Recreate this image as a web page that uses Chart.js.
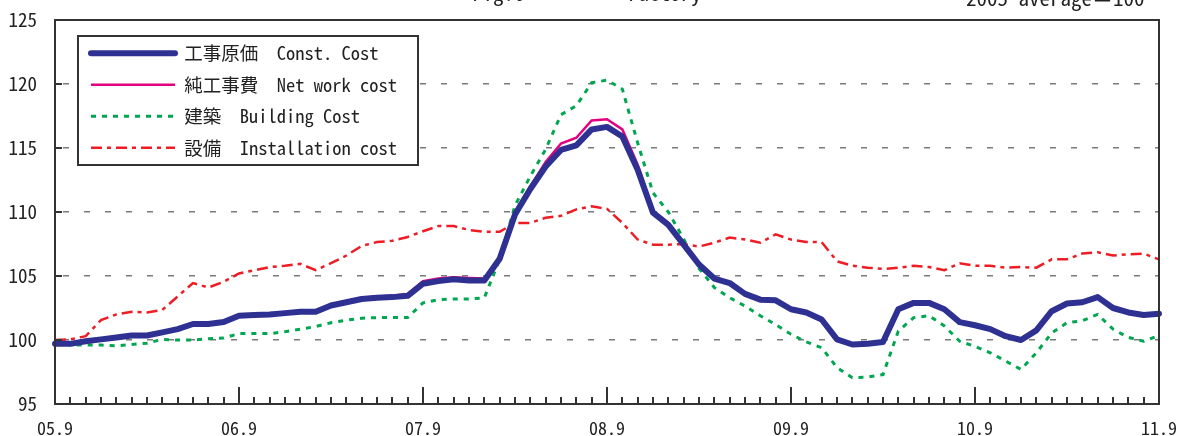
<!DOCTYPE html>
<html>
<head>
<meta charset="utf-8">
<script src="https://cdn.jsdelivr.net/npm/chart.js@4.4.1/dist/chart.umd.min.js"></script>
<style>
  html, body { margin: 0; padding: 0; background: #fff; }
  #wrap { width: 1179px; height: 436px; position: relative; }
</style>
</head>
<body>
<div id="wrap"><canvas id="c" width="1179" height="436"></canvas></div>
<script>
// ---- Data ----
const months = [
  '05.9','05.10','05.11','05.12',
  '06.1','06.2','06.3','06.4','06.5','06.6','06.7','06.8','06.9','06.10','06.11','06.12',
  '07.1','07.2','07.3','07.4','07.5','07.6','07.7','07.8','07.9','07.10','07.11','07.12',
  '08.1','08.2','08.3','08.4','08.5','08.6','08.7','08.8','08.9','08.10','08.11','08.12',
  '09.1','09.2','09.3','09.4','09.5','09.6','09.7','09.8','09.9','09.10','09.11','09.12',
  '10.1','10.2','10.3','10.4','10.5','10.6','10.7','10.8','10.9','10.10','10.11','10.12',
  '11.1','11.2','11.3','11.4','11.5','11.6','11.7','11.8','11.9'
];
const tickLabels = ['05.9','06.9','07.9','08.9','09.9','10.9','11.9'];

const constCost = [
  99.7, 99.7, 99.9, 100.05, 100.2, 100.35, 100.35, 100.6, 100.85, 101.25, 101.25, 101.4,
  101.9, 101.95, 102.0, 102.1, 102.2, 102.2, 102.7, 102.95, 103.2, 103.3, 103.35, 103.45,
  104.4, 104.6, 104.75, 104.65, 104.65, 106.35, 109.8, 111.8, 113.55, 114.85, 115.2, 116.45,
  116.65, 115.9, 113.3, 109.95, 109.0, 107.45, 105.9, 104.8, 104.45, 103.6, 103.15, 103.1,
  102.4, 102.15, 101.6, 100.05, 99.65, 99.7, 99.85, 102.4, 102.9, 102.9, 102.4, 101.4,
  101.15, 100.85, 100.3, 100.0, 100.75, 102.25, 102.85, 102.95, 103.35, 102.5, 102.15, 101.95, 102.05
];
const netWorkCost = [
  99.75, 99.75, 99.95, 100.1, 100.25, 100.4, 100.4, 100.65, 100.9, 101.3, 101.3, 101.45,
  101.95, 102.0, 102.05, 102.15, 102.25, 102.25, 102.8, 103.05, 103.3, 103.4, 103.45, 103.6,
  104.6, 104.8, 104.9, 104.85, 104.8, 106.45, 110.0, 112.0, 113.9, 115.35, 115.8, 117.15,
  117.25, 116.45, 113.7, 110.1, 109.15, 107.55, 105.95, 104.85, 104.5, 103.65, 103.2, 103.15,
  102.45, 102.2, 101.65, 100.1, 99.7, 99.75, 99.9, 102.5, 103.0, 103.0, 102.45, 101.45,
  101.2, 100.9, 100.35, 100.05, 100.8, 102.3, 102.9, 103.0, 103.45, 102.55, 102.2, 102.0, 102.1
];
const buildingCost = [
  99.85, 99.6, 99.6, 99.6, 99.55, 99.65, 99.75, 100.05, 100.0, 100.0, 100.1, 100.15,
  100.5, 100.5, 100.5, 100.65, 100.85, 101.05, 101.35, 101.55, 101.7, 101.75, 101.75, 101.75,
  102.9, 103.15, 103.2, 103.2, 103.3, 106.3, 110.5, 112.8, 114.9, 117.6, 118.3, 120.1,
  120.3, 119.6, 115.4, 111.5, 110.0, 107.9, 105.6, 104.1, 103.3, 102.65, 101.9, 101.2,
  100.45, 99.85, 99.4, 97.85, 97.05, 97.1, 97.3, 100.7, 101.75, 101.9, 101.1, 99.9,
  99.5, 99.0, 98.35, 97.7, 99.0, 100.55, 101.35, 101.5, 102.0, 100.85, 100.2, 99.9, 100.35
];
const installationCost = [
  100.0, 100.05, 100.3, 101.55, 102.0, 102.2, 102.15, 102.35, 103.4, 104.45, 104.1, 104.55,
  105.2, 105.45, 105.7, 105.8, 105.95, 105.45, 106.0, 106.6, 107.35, 107.65, 107.75, 108.05,
  108.5, 108.9, 108.9, 108.6, 108.45, 108.45, 109.15, 109.15, 109.55, 109.7, 110.2, 110.45,
  110.25, 109.15, 107.85, 107.45, 107.45, 107.5, 107.3, 107.6, 108.0, 107.85, 107.6, 108.25,
  107.85, 107.65, 107.65, 106.15, 105.8, 105.65, 105.55, 105.65, 105.8, 105.7, 105.45, 106.0,
  105.8, 105.8, 105.65, 105.7, 105.65, 106.3, 106.3, 106.75, 106.85, 106.6, 106.7, 106.75, 106.3
];
const seriesNames = [
  '工事原価  Const. Cost',
  '純工事費  Net work cost',
  '建築  Building Cost',
  '設備  Installation cost'
];
const headerTexts = ['Fig.6', 'Factory', '2005 average＝100'];

// ---- Fonts ----
const gothic = '"Noto Sans Mono CJK JP", "Noto Sans CJK JP", "DejaVu Sans Mono", monospace';
const narrow = '"Liberation Sans Narrow", "Noto Sans Mono CJK JP", "Liberation Sans", sans-serif';

// ---- Decorations: frame, inward ticks, legend box, header texts ----
const decor = {
  id: 'decor',
  afterLayout(chart) {
    const lg = chart.legend, a = chart.chartArea;
    if (lg) {
      const w = lg.width, h = lg.height;
      lg.left = a.left + 23; lg.top = a.top + 11;
      lg.right = lg.left + w; lg.bottom = lg.top + h;
    }
  },
  afterDraw(chart) {
    const ctx = chart.ctx, a = chart.chartArea;
    const xs = chart.scales.x, ys = chart.scales.y;
    ctx.save();
    ctx.strokeStyle = '#333';
    ctx.lineWidth = 2;
    ctx.setLineDash([]);
    ctx.beginPath();
    for (let i = 1; i < months.length - 1; i++) {
      const px = Math.round(xs.getPixelForValue(i));
      const len = (i % 12 === 0) ? 17 : 7;
      ctx.moveTo(px, a.bottom);
      ctx.lineTo(px, a.bottom - len);
    }
    for (let v = 100; v <= 120; v += 5) {
      const py = Math.round(ys.getPixelForValue(v));
      ctx.moveTo(a.left, py);
      ctx.lineTo(a.left + 7, py);
    }
    ctx.stroke();
    ctx.strokeRect(a.left, a.top, a.right - a.left, a.bottom - a.top);
    // legend box: white background, redraw legend on top, border
    const bx = a.left + 23, by = a.top + 16, bw = 340, bh = 129;
    ctx.fillStyle = '#fff';
    ctx.fillRect(bx, by, bw, bh);
    ctx.restore();
    if (chart.legend) chart.legend.draw();
    ctx.save();
    ctx.strokeStyle = '#333';
    ctx.lineWidth = 2;
    ctx.setLineDash([]);
    ctx.strokeRect(bx, by, bw, bh);
    ctx.fillStyle = '#222';
    ctx.font = '21px ' + gothic;
    ctx.textBaseline = 'alphabetic';
    ctx.textAlign = 'left';
    ctx.fillText(headerTexts[0], 472, 1);
    ctx.fillText(headerTexts[1], 628, 1);
    ctx.fillText(headerTexts[2], 966, 6);
    ctx.restore();
  }
};

new Chart(document.getElementById('c'), {
  type: 'line',
  data: {
    labels: months,
    datasets: [
      { label: seriesNames[0], data: constCost, borderColor: '#2e3192', backgroundColor: '#2e3192',
        borderWidth: 6, borderCapStyle: 'round', borderJoinStyle: 'round', pointRadius: 0, tension: 0 },
      { label: seriesNames[1], data: netWorkCost, borderColor: '#e4007f', backgroundColor: '#e4007f',
        borderWidth: 2.5, pointRadius: 0, tension: 0 },
      { label: seriesNames[2], data: buildingCost, borderColor: '#00a650', backgroundColor: '#00a650',
        borderWidth: 3, borderDash: [5, 6], pointRadius: 0, tension: 0 },
      { label: seriesNames[3], data: installationCost, borderColor: '#ee1c25', backgroundColor: '#ee1c25',
        borderWidth: 2.5, borderDash: [11, 5, 4, 5], pointRadius: 0, tension: 0 }
    ]
  },
  options: {
    responsive: false,
    animation: false,
    devicePixelRatio: 1,
    layout: { padding: { top: 20, right: 20, left: 0, bottom: 0 } },
    plugins: {
      legend: {
        position: 'chartArea',
        align: 'start',
        labels: {
          usePointStyle: true,
          pointStyle: 'line',
          pointStyleWidth: 84,
          padding: 13,
          color: '#222',
          font: { family: gothic, size: 18.5 },
          generateLabels: (chart) => {
            const items = Chart.defaults.plugins.legend.labels.generateLabels(chart);
            items.forEach((it) => {
              const ds = chart.data.datasets[it.datasetIndex];
              it.lineDash = ds.borderDash || [];
              it.lineCap = ds.borderCapStyle || 'butt';
              it.lineWidth = ds.borderWidth;
              it.strokeStyle = ds.borderColor;
            });
            return items;
          }
        }
      },
      tooltip: { enabled: false },
      title: { display: false }
    },
    scales: {
      x: {
        type: 'category',
        offset: false,
        grid: { display: false, drawTicks: false },
        border: { display: false },
        ticks: {
          autoSkip: false,
          maxRotation: 0,
          minRotation: 0,
          padding: 13,
          color: '#222',
          font: { family: gothic, size: 18 },
          callback: (v, i) => (i % 12 === 0 ? tickLabels[i / 12] : '')
        },
        afterFit: (s) => { s.height = 32; s.paddingLeft = 0; s.paddingRight = 0; }
      },
      y: {
        min: 95,
        max: 125,
        grid: {
          drawTicks: false,
          lineWidth: 1.5,
          color: (c) => (c.tick && (c.tick.value === 95 || c.tick.value === 125)) ? 'rgba(0,0,0,0)' : '#7a7a7a'
        },
        border: { display: false, dash: [6, 15], dashOffset: -8 },
        ticks: {
          stepSize: 5,
          padding: 18,
          color: '#222',
          font: { family: narrow, size: 19 }
        },
        afterFit: (s) => { s.width = 55; s.paddingTop = 0; s.paddingBottom = 0; }
      }
    }
  },
  plugins: [decor]
});
</script>
</body>
</html>
